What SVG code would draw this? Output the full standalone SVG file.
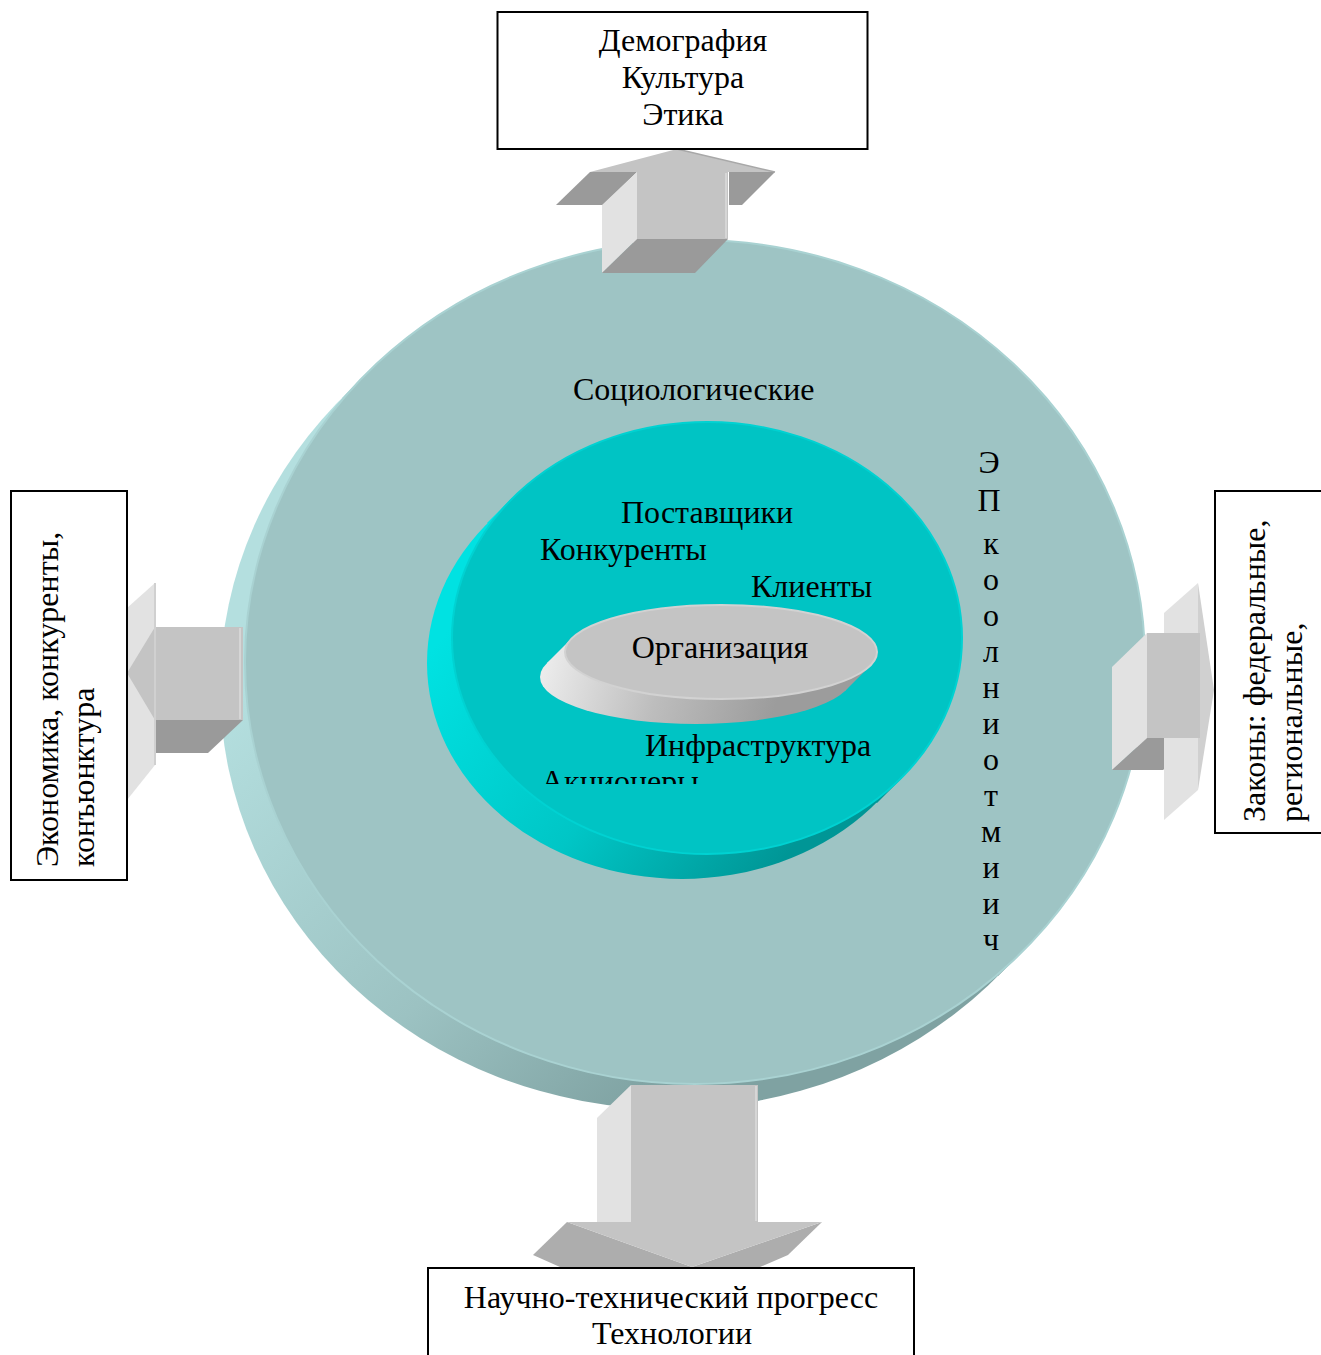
<svg xmlns="http://www.w3.org/2000/svg" width="1321" height="1355" viewBox="0 0 1321 1355">
  <defs>
    <linearGradient id="outerSide" gradientUnits="userSpaceOnUse" x1="230" y1="700" x2="640" y2="1110">
      <stop offset="0" stop-color="#b4dfdf"/>
      <stop offset="0.6" stop-color="#9cc2c2"/>
      <stop offset="1" stop-color="#7fa2a2"/>
    </linearGradient>
    <linearGradient id="innerSide" gradientUnits="userSpaceOnUse" x1="440" y1="640" x2="760" y2="890">
      <stop offset="0" stop-color="#00e2e2"/>
      <stop offset="0.55" stop-color="#00c6c6"/>
      <stop offset="1" stop-color="#009696"/>
    </linearGradient>
    <linearGradient id="orgSide" gradientUnits="userSpaceOnUse" x1="545" y1="660" x2="770" y2="725">
      <stop offset="0" stop-color="#ececec"/>
      <stop offset="0.5" stop-color="#bdbdbd"/>
      <stop offset="1" stop-color="#9c9c9c"/>
    </linearGradient>
    <clipPath id="clipInnerText">
      <rect x="400" y="400" width="600" height="384"/>
    </clipPath>
    <style>
      .lbl { font-family: "Liberation Serif", "Times New Roman", serif; font-size: 32px; fill: #000; }
      .mid { text-anchor: middle; }
      .box { fill: #ffffff; stroke: #000000; stroke-width: 2; }
      .front { fill: #c4c4c4; }
      .light { fill: #e2e2e2; }
      .dark { fill: #9a9a9a; }
      .wing { fill: #adadad; }
    </style>
  </defs>

  <!-- outer ring: environment -->
  <g id="node-environment">
    <ellipse cx="670" cy="687" rx="450" ry="422" fill="url(#outerSide)"/>
    <polygon points="367,373 342,398 998,976 1023,951" fill="url(#outerSide)"/>
    <ellipse cx="695" cy="662" rx="450" ry="422" fill="#9ec4c4" stroke="#a9d2d2" stroke-width="2"/>
    <text class="lbl" x="573" y="400">Социологические</text>
    <g class="lbl mid">
      <text x="989" y="473">Э</text>
      <text x="989" y="511">П</text>
      <text x="991" y="554">к</text>
      <text x="991" y="590">о</text>
      <text x="991" y="626">о</text>
      <text x="991" y="662">л</text>
      <text x="991" y="698">н</text>
      <text x="991" y="734">и</text>
      <text x="991" y="770">о</text>
      <text x="991" y="806">т</text>
      <text x="991" y="842">м</text>
      <text x="991" y="878">и</text>
      <text x="991" y="914">и</text>
      <text x="991" y="950">ч</text>
    </g>
  </g>

  <!-- inner ring: direct environment -->
  <g id="node-direct">
    <ellipse cx="682" cy="663" rx="255" ry="216" fill="url(#innerSide)"/>
    <polygon points="512,498 487,523 877,803 902,778" fill="url(#innerSide)"/>
    <ellipse cx="707" cy="638" rx="255" ry="216" fill="#00c4c4" stroke="#00d2d2" stroke-width="2"/>
    <text class="lbl" x="621" y="523">Поставщики</text>
    <text class="lbl" x="540" y="560">Конкуренты</text>
    <text class="lbl" x="751" y="597">Клиенты</text>
    <text class="lbl" x="645" y="756">Инфраструктура</text>
    <text class="lbl" x="541" y="792" clip-path="url(#clipInnerText)">Акционеры</text>
  </g>

  <!-- core: organization -->
  <g id="node-organization">
    <ellipse cx="696" cy="677" rx="156" ry="47" fill="url(#orgSide)"/>
    <polygon points="572,638 547,663 845,691 870,666" fill="url(#orgSide)"/>
    <ellipse cx="721" cy="652" rx="156" ry="47" fill="#c4c4c4" stroke="#d2d2d2" stroke-width="2"/>
    <text class="lbl mid" x="720" y="658">Организация</text>
  </g>

  <!-- block arrows from the environment to the factor boxes -->
  <g id="connectors">
    <g id="arrow-up">
      <polygon class="dark" points="590,172 637,172 603,205 556,205"/>
      <polygon class="dark" points="729,172 775,172 742,205 729,205"/>
      <polygon class="light" points="602,205 637,172 637,239 602,273"/>
      <polygon class="dark" points="637,239 728,239 695,273 602,273"/>
      <polygon class="front" points="590,172 677,149 775,172 728,172 728,239 637,239 637,172"/>
      <line x1="677" y1="149" x2="775" y2="172" stroke="#a8a8a8" stroke-width="1.5"/>
      <line x1="726" y1="173" x2="726" y2="238" stroke="#d6d6d6" stroke-width="2"/>
    </g>
    <g id="arrow-left">
      <polygon class="light" points="127,608 155,583 155,765 127,800"/>
      <polygon class="front" points="127,673 155,627 155,720"/>
      <polygon class="dark" points="155,720 243,720 208,753 155,753"/>
      <rect class="front" x="155" y="627" width="88" height="93"/>
      <line x1="155" y1="583" x2="155" y2="765" stroke="#d0d0d0" stroke-width="2"/>
      <line x1="240" y1="628" x2="240" y2="719" stroke="#d6d6d6" stroke-width="2"/>
    </g>
    <g id="arrow-right">
      <polygon class="light" points="1112,667 1147,633 1147,738 1112,770"/>
      <polygon class="dark" points="1147,738 1200,738 1163,770 1112,770"/>
      <polygon class="light" points="1164,613 1198,583 1198,633 1164,633"/>
      <polygon class="light" points="1164,738 1198,738 1198,790 1164,820"/>
      <polygon fill="#d0d0d0" points="1198,583 1214,690 1198,790"/>
      <rect class="front" x="1147" y="633" width="53" height="105"/>
    </g>
    <g id="arrow-down">
      <polygon class="light" points="597,1118 631,1085 631,1222 597,1222"/>
      <rect class="front" x="631" y="1085" width="127" height="137"/>
      <line x1="756" y1="1086" x2="756" y2="1221" stroke="#d6d6d6" stroke-width="2"/>
      <polygon class="wing" points="567,1222 533,1255 560,1267 692,1267"/>
      <polygon class="wing" points="822,1222 788,1255 760,1267 692,1267"/>
      <polygon class="front" points="567,1222 822,1222 692,1267"/>
    </g>
  </g>

  <!-- factor boxes -->
  <g id="node-social">
    <rect class="box" x="497.5" y="12" width="370" height="137"/>
    <text class="lbl mid" x="683" y="51">Демография</text>
    <text class="lbl mid" x="683" y="88">Культура</text>
    <text class="lbl mid" x="683" y="125">Этика</text>
  </g>
  <g id="node-economic">
    <rect class="box" x="11" y="491" width="116" height="389"/>
    <text class="lbl" transform="translate(58,867) rotate(-90)">Экономика, конкуренты,</text>
    <text class="lbl" transform="translate(94,867) rotate(-90)">конъюнктура</text>
  </g>
  <g id="node-political">
    <rect class="box" x="1215" y="491" width="120" height="342"/>
    <text class="lbl" transform="translate(1265,822) rotate(-90)">Законы: федеральные,</text>
    <text class="lbl" transform="translate(1302,822) rotate(-90)">региональные,</text>
  </g>
  <g id="node-tech">
    <rect class="box" x="428" y="1268" width="486" height="110"/>
    <text class="lbl mid" x="671" y="1308">Научно-технический прогресс</text>
    <text class="lbl mid" x="672" y="1344">Технологии</text>
  </g>
</svg>
